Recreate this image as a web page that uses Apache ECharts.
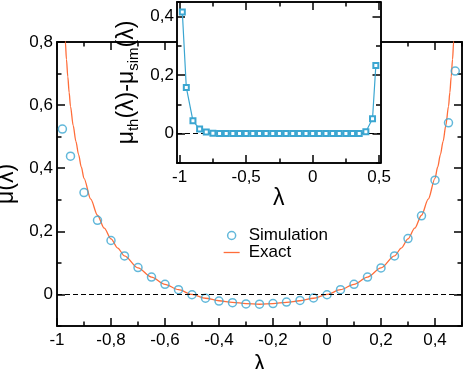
<!DOCTYPE html>
<html>
<head>
<meta charset="utf-8">
<script src="https://cdn.jsdelivr.net/npm/echarts@6.0.0/dist/echarts.min.js"></script>
<style>
html, body { margin: 0; padding: 0; background: #fff; }
#chart { width: 463px; height: 369px; }
</style>
</head>
<body>
<div id="chart"></div>
<script>
// simulation points (circles in main plot, squares in inset)
var simX = [-0.98, -0.95, -0.9, -0.85, -0.8, -0.75, -0.7, -0.65, -0.6, -0.55, -0.5, -0.45, -0.4, -0.35, -0.3, -0.25,
	-0.2, -0.15, -0.1, -0.05, 0, 0.05, 0.1, 0.15, 0.2, 0.25, 0.3, 0.35, 0.4, 0.45, 0.475];
var simY = [0.524, 0.438, 0.323, 0.235, 0.171, 0.122, 0.085, 0.055, 0.032, 0.015, -0.001, -0.012, -0.021, -0.026, -0.030, -0.031,
	-0.029, -0.024, -0.019, -0.011, -0.001, 0.015, 0.032, 0.055, 0.084, 0.122, 0.177, 0.249, 0.362, 0.544, 0.708];
// mu_th - mu_sim (inset)
var diffY = [0.416, 0.158, 0.044, 0.016, 0.006, 0.002, 0.001, 0.001, 0.001, 0.001, 0.001, 0.001, 0.001, 0.001, 0.001, 0.001,
	0.001, 0.001, 0.001, 0.001, 0.001, 0.001, 0.001, 0.001, 0.001, 0.001, 0.001, 0.001, 0.007, 0.051, 0.233];
// exact curve
var exactX = [-0.975, -0.969, -0.965, -0.96, -0.955, -0.95, -0.94, -0.93, -0.92, -0.91, -0.9, -0.875, -0.85, -0.825, -0.8, -0.775, -0.75,
	-0.7, -0.65, -0.6, -0.55, -0.5, -0.45, -0.4, -0.35, -0.3, -0.25, -0.2, -0.15, -0.1, -0.05, 0, 0.05, 0.1, 0.15, 0.2,
	0.25, 0.275, 0.3, 0.325, 0.35, 0.375, 0.4, 0.41, 0.42, 0.43, 0.44, 0.45, 0.455, 0.46, 0.465, 0.469, 0.475];
var exactY = [0.88, 0.80, 0.745, 0.69, 0.64, 0.596, 0.535, 0.485, 0.443, 0.404, 0.368, 0.302, 0.251, 0.21, 0.176, 0.147, 0.122,
	0.084, 0.055, 0.032, 0.015, 0.0, -0.012, -0.02, -0.025, -0.029, -0.031, -0.029, -0.025, -0.02, -0.012, 0.0, 0.015, 0.032, 0.055, 0.084,
	0.122, 0.147, 0.176, 0.21, 0.251, 0.302, 0.368, 0.404, 0.443, 0.485, 0.535, 0.596, 0.64, 0.69, 0.745, 0.80, 0.88];

// tick labels
var mainXTicks = [-1, -0.8, -0.6, -0.4, -0.2, 0, 0.2, 0.4];
var mainYTicks = [0, 0.2, 0.4, 0.6, 0.8];
var insetXTicks = [-1, -0.5, 0, 0.5];
var insetXMinor = [-1, -0.75, -0.5, -0.25, 0, 0.25, 0.5];
var insetYTicks = [0, 0.2, 0.4];

var FONT = '"Liberation Sans", Arial, sans-serif';
var BLUE = '#3ba6d1';
var ORANGE = '#ff6d3a';
var MAJOR = 8, MINOR = 4.5;

function pairs(xs, ys) {
	var out = [];
	for (var i = 0; i < xs.length; i++) {
		out.push([xs[i], ys[i]]);
	}
	return out;
}

function comma(v) {
	return String(v).replace('.', ',');
}

// one axis = one side of the frame; ticks point inward
function side(grid, pos, min, max, len, z) {
	return {
		type: 'value', gridIndex: grid, position: pos, min: min, max: max, z: z,
		axisLine: {show: true, onZero: false, lineStyle: {color: '#000', width: 1.5}},
		axisTick: {show: true, inside: true, length: len, lineStyle: {color: '#000', width: 1.5}},
		axisLabel: {show: false},
		splitLine: {show: false}
	};
}

function minorSide(grid, pos, min, max, z, interval, custom) {
	var a = side(grid, pos, min, max, MINOR, z);
	if (custom) {
		a.axisTick.customValues = custom;
		a.interval = 0.25;
	} else {
		a.interval = interval;
	}
	return a;
}

function majorSide(grid, pos, min, max, z, ticks, labels, margin) {
	var a = side(grid, pos, min, max, MAJOR, z);
	a.axisTick.customValues = ticks;
	if (labels) {
		a.axisLabel = {show: true, customValues: ticks, margin: margin, fontSize: 17, fontFamily: FONT, color: '#000', formatter: comma};
	}
	return a;
}

var nameStyle = {fontSize: 23, fontFamily: FONT, color: '#000'};

var xAxes = [
	minorSide(0, 'bottom', -1, 0.5, 1, 0.1),
	minorSide(0, 'top', -1, 0.5, 1, 0.1),
	majorSide(1, 'bottom', -1, 0.5, 1, mainXTicks, true, 6),
	majorSide(1, 'top', -1, 0.5, 1, mainXTicks, false),
	minorSide(2, 'bottom', -1.02, 0.51, 6, null, insetXMinor),
	minorSide(2, 'top', -1.02, 0.51, 6, null, insetXMinor),
	majorSide(3, 'bottom', -1.02, 0.51, 6, insetXTicks, true, 6),
	majorSide(3, 'top', -1.02, 0.51, 6, insetXTicks, false)
];
var yAxes = [
	minorSide(0, 'left', -0.1, 0.8, 1, 0.1),
	minorSide(0, 'right', -0.1, 0.8, 1, 0.1),
	majorSide(1, 'left', -0.1, 0.8, 1, mainYTicks, true, 4),
	majorSide(1, 'right', -0.1, 0.8, 1, mainYTicks, false),
	minorSide(2, 'left', -0.1, 0.45, 6, 0.1),
	minorSide(2, 'right', -0.1, 0.45, 6, 0.1),
	majorSide(3, 'left', -0.1, 0.45, 6, insetYTicks, true, 3),
	majorSide(3, 'right', -0.1, 0.45, 6, insetYTicks, false)
];

xAxes[2].name = 'λ';
xAxes[2].nameLocation = 'middle';
xAxes[2].nameGap = 22;
xAxes[2].nameTextStyle = nameStyle;
yAxes[2].name = 'μ(λ)';
yAxes[2].nameLocation = 'middle';
yAxes[2].nameGap = 32;
yAxes[2].nameTextStyle = nameStyle;

xAxes[6].name = 'λ';
xAxes[6].nameLocation = 'middle';
xAxes[6].nameGap = 13;
xAxes[6].nameTextStyle = nameStyle;
yAxes[6].name = '{n|μ}{s|th}{n|(λ)-μ}{s|sim}{n|(λ)}';
yAxes[6].nameLocation = 'middle';
yAxes[6].nameGap = 36;
yAxes[6].nameTextStyle = {
	fontFamily: FONT, color: '#000',
	rich: {
		n: {fontSize: 23, fontFamily: FONT, color: '#000', lineHeight: 28},
		s: {fontSize: 15, fontFamily: FONT, color: '#000', lineHeight: 15, verticalAlign: 'bottom'}
	}
};

var mainRect = {left: 57, top: 42, width: 405, height: 284};
var insetRect = {left: 177, top: 2, width: 203.5, height: 161};

function grid(r, extra) {
	var g = {left: r.left, top: r.top, width: r.width, height: r.height, containLabel: false, outerBoundsMode: 'none', show: false};
	for (var k in extra) g[k] = extra[k];
	return g;
}

var zeroLine = {
	silent: true, symbol: 'none', label: {show: false},
	lineStyle: {type: [5, 3], color: '#000', width: 1},
	data: [{yAxis: 0}]
};

var myChart = echarts.init(document.getElementById('chart'));
myChart.setOption({
	animation: false,
	backgroundColor: '#fff',
	grid: [
		grid(mainRect, {}),
		grid(mainRect, {}),
		grid(insetRect, {show: true, backgroundColor: '#fff', borderWidth: 0, z: 5}),
		grid(insetRect, {z: 5})
	],
	xAxis: xAxes,
	yAxis: yAxes,
	legend: {
		orient: 'vertical', left: 223, top: 227, itemGap: 0, padding: 0,
		itemWidth: 16, itemHeight: 8, selectedMode: false,
		textStyle: {fontSize: 17, fontFamily: FONT, color: '#000', lineHeight: 17, padding: [0, 0, 0, 4]},
		data: [
			{name: 'Simulation', icon: 'circle', itemStyle: {color: 'transparent', borderColor: BLUE, borderWidth: 1.5}},
			{name: 'Exact', itemStyle: {opacity: 0}, lineStyle: {color: ORANGE, width: 1.3}}
		]
	},
	series: [
		{
			name: 'Exact', type: 'line', xAxisIndex: 0, yAxisIndex: 0, z: 2,
			data: pairs(exactX, exactY),
			symbol: 'none', smooth: 0.3, smoothMonotone: 'x',
			lineStyle: {color: ORANGE, width: 1.3},
			itemStyle: {color: ORANGE},
			markLine: zeroLine
		},
		{
			name: 'Simulation', type: 'scatter', xAxisIndex: 0, yAxisIndex: 0, z: 3,
			data: pairs(simX, simY),
			symbol: 'circle', symbolSize: 8,
			itemStyle: {color: 'transparent', borderColor: BLUE, borderWidth: 1.5}
		},
		{
			name: 'diff', type: 'line', xAxisIndex: 4, yAxisIndex: 4, z: 7,
			data: pairs(simX, diffY),
			symbol: 'emptyRect', symbolSize: 5, showSymbol: true,
			lineStyle: {color: BLUE, width: 1.2},
			itemStyle: {color: BLUE, borderWidth: 1},
			markLine: zeroLine
		}
	]
});
</script>
</body>
</html>
